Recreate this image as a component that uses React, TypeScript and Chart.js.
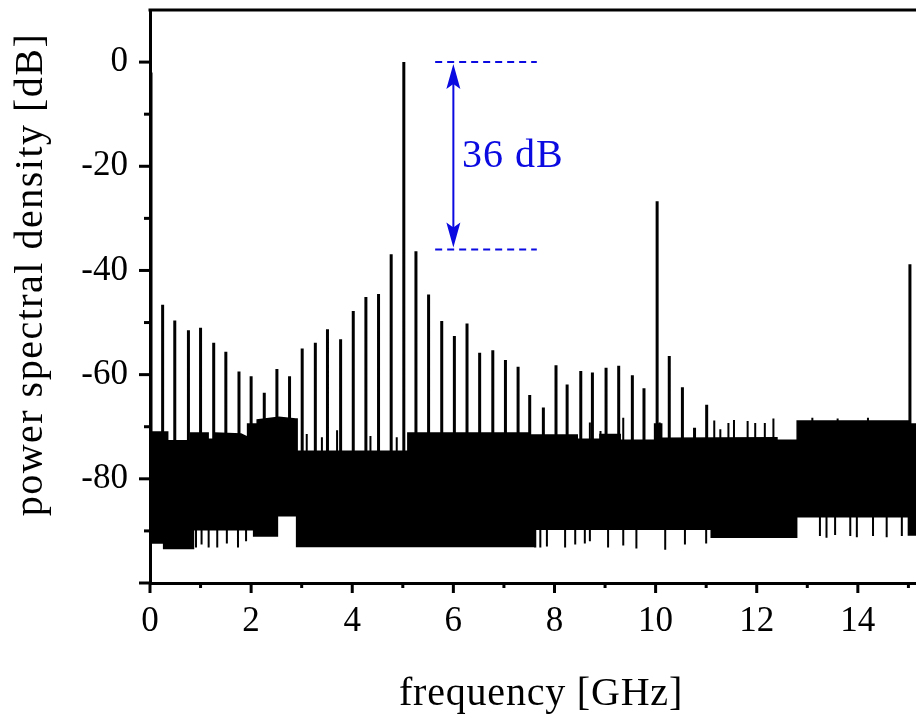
import React, { useEffect, useRef } from "react";
import { Chart, registerables } from "chart.js";

Chart.register(...registerables);

// ---- axis ticks & titles ----
const xTickValues = [0, 2, 4, 6, 8, 10, 12, 14];
const xMinorTickValues = [1, 3, 5, 7, 9, 11, 13, 15];
const yTickValues = [-80, -60, -40, -20, 0];
const yMajorMarkValues = [-100, -80, -60, -40, -20, 0];
const yMinorTickValues = [-90, -70, -50, -30, -10];
const xAxisTitle = "frequency [GHz]";
const yAxisTitle = "power spectral density [dB]";

// ---- comb lines (GHz, dB) ----
const combFreqs = [
  0.02, 0.25, 0.49, 0.76, 1.0, 1.26, 1.5, 1.76, 2.0, 2.26, 2.51, 2.76, 3.01, 3.27, 3.51,
  3.77, 4.02, 4.27, 4.52, 4.77, 5.02, 5.26, 5.51, 5.77, 6.02, 6.27, 6.52, 6.78, 7.03,
  7.28, 7.51, 7.78, 8.03, 8.25, 8.52, 8.75, 9.02, 9.27, 9.54, 9.77, 10.03, 10.27, 10.53,
  10.77, 11.01, 15.03,
];
const combLevels = [
  -2, -46.6, -49.6, -51.5, -51.0, -53.9, -55.6, -59.4, -60.3, -63.5, -58.9, -60.3, -55.0,
  -53.9, -51.3, -53.2, -47.8, -45.1, -44.5, -36.9, 0, -36.3, -44.6, -49.7, -52.6, -50.2,
  -55.8, -55.3, -57.2, -58.5, -63.9, -66.3, -58.2, -61.9, -59.3, -59.6, -58.7, -58.3,
  -60.1, -62.6, -26.7, -56.4, -62.4, -70.2, -65.8, -38.8,
];

// ---- small spurs on top of the noise floor ----
const spurFreqs = [
  3.1, 3.4, 3.7, 4.36, 4.88, 8.7, 8.91, 9.36, 10.08, 11.16, 11.28, 11.44, 11.55, 11.82,
  11.97, 12.16, 12.33, 13.1, 13.6, 14.2,
];
const spurLevels = [
  -71.4, -72.0, -70.7, -71.8, -72.0, -69.2, -70.8, -68.3, -69.2, -68.8, -70.5, -69.3,
  -68.7, -68.9, -69.3, -69.3, -68.4, -68.3, -68.4, -68.3,
];

// ---- downward excursions of the noise floor ----
const dipFreqs = [
  0.91, 1.02, 1.16, 1.33, 1.52, 1.74, 1.9, 7.62, 7.72, 7.85, 8.21, 8.41, 8.6, 8.7, 9.06,
  9.36, 9.62, 10.19, 10.58, 11.0, 13.25, 13.38, 13.55, 13.85, 13.98, 14.3, 14.57, 14.87,
];
const dipLevels = [
  -93.2, -92.6, -93.2, -93.2, -92.4, -93.2, -92.0, -93.2, -93.2, -93.0, -93.2, -92.6,
  -92.4, -92.0, -93.2, -92.8, -93.4, -93.6, -92.6, -92.4, -91.0, -91.3, -90.8, -91.0,
  -91.2, -91.0, -91.2, -91.0,
];

// ---- noise floor envelope ----
const floorTopFreqs = [
  0.0, 0.35, 0.35, 0.8, 0.8, 1.15, 1.15, 1.3, 1.3, 1.8, 1.93, 1.93, 2.12, 2.12, 2.55, 2.88,
  2.91, 2.91, 5.1, 5.1, 7.5, 7.5, 8.45, 8.45, 8.9, 8.9, 9.3, 9.3, 9.98, 9.98, 10.12, 10.12,
  12.4, 12.4, 12.8, 12.8, 15.0, 15.0, 15.2,
];
const floorTopLevels = [
  -71.0, -71.0, -72.7, -72.7, -71.2, -71.2, -72.4, -72.4, -71.2, -71.4, -72.0, -69.5, -69.5,
  -68.7, -68.2, -68.5, -68.5, -74.7, -74.7, -71.2, -71.2, -71.6, -71.6, -72.4, -72.4, -71.5,
  -71.5, -72.6, -72.6, -69.5, -69.5, -72.2, -72.1, -72.6, -72.6, -68.9, -68.9, -69.5, -69.5,
];
const floorBottomFreqs = [
  0.0, 0.27, 0.27, 0.86, 0.86, 2.05, 2.05, 2.52, 2.52, 2.9, 2.9, 7.6, 7.6, 11.1, 11.1, 12.79,
  12.79, 15.0, 15.0, 15.2,
];
const floorBottomLevels = [
  -92.3, -92.3, -93.4, -93.4, -89.8, -89.8, -91.0, -91.0, -87.1, -87.1, -93.0, -93.0, -89.7,
  -89.7, -91.2, -91.2, -87.3, -87.3, -90.8, -90.8,
];

// ---- annotation ----
const annotationLevels = [0, -36];
const annotationSpan = [5.64, 7.65];
const arrowFreq = 6.0;
const annotationText = "36 dB";
const annotationTextAt = [6.17, -20.2];

const SERIF = "'Liberation Serif', 'Times New Roman', serif";
const BLUE = "rgb(10,10,225)";
const INK = "#000";

const segments = (freqs: number[], levels: number[], base: number) =>
  freqs.flatMap((f, i) => [
    { x: f, y: base },
    { x: f, y: levels[i] },
    { x: f, y: null },
  ]);

const decorPlugin = {
  id: "decor",
  afterDatasetsDraw(chart: any) {
    const { ctx, chartArea } = chart;
    const xs = chart.scales.x;
    const ys = chart.scales.y;
    ctx.save();
    ctx.strokeStyle = INK;
    ctx.lineWidth = 3;
    ctx.lineCap = "butt";
    // top frame line
    ctx.beginPath();
    ctx.moveTo(chartArea.left - 1.5, chartArea.top);
    ctx.lineTo(chartArea.right, chartArea.top);
    ctx.stroke();
    // tick marks
    const yMark = (v: number, len: number) => {
      const p = ys.getPixelForValue(v);
      ctx.beginPath();
      ctx.moveTo(chartArea.left - len, p);
      ctx.lineTo(chartArea.left, p);
      ctx.stroke();
    };
    const xMark = (v: number, len: number) => {
      const p = xs.getPixelForValue(v);
      ctx.beginPath();
      ctx.moveTo(p, chartArea.bottom);
      ctx.lineTo(p, chartArea.bottom + len);
      ctx.stroke();
    };
    yMajorMarkValues.forEach((v) => yMark(v, 11));
    yMinorTickValues.forEach((v) => yMark(v, 6));
    xTickValues.forEach((v) => xMark(v, 10));
    xMinorTickValues.forEach((v) => xMark(v, 5));

    // annotation
    ctx.strokeStyle = BLUE;
    ctx.fillStyle = BLUE;
    ctx.lineWidth = 2;
    ctx.setLineDash([7, 5]);
    annotationLevels.forEach((lv) => {
      const py = ys.getPixelForValue(lv);
      ctx.beginPath();
      ctx.moveTo(xs.getPixelForValue(annotationSpan[0]), py);
      ctx.lineTo(xs.getPixelForValue(annotationSpan[1]), py);
      ctx.stroke();
    });
    ctx.setLineDash([]);
    const ax = xs.getPixelForValue(arrowFreq);
    const yTop = ys.getPixelForValue(annotationLevels[0]) + 2;
    const yBot = ys.getPixelForValue(annotationLevels[1]) - 2;
    ctx.beginPath();
    ctx.moveTo(ax, yTop + 10);
    ctx.lineTo(ax, yBot - 10);
    ctx.stroke();
    const head = (tip: number, dir: number) => {
      ctx.beginPath();
      ctx.moveTo(ax, tip);
      ctx.lineTo(ax - 7, tip + dir * 25);
      ctx.lineTo(ax, tip + dir * 20);
      ctx.lineTo(ax + 7, tip + dir * 25);
      ctx.closePath();
      ctx.fill();
    };
    head(yTop, 1);
    head(yBot, -1);
    ctx.font = `40px ${SERIF}`;
    (ctx as any).letterSpacing = "1px";
    ctx.textAlign = "left";
    ctx.textBaseline = "alphabetic";
    ctx.fillText(
      annotationText,
      xs.getPixelForValue(annotationTextAt[0]),
      ys.getPixelForValue(annotationTextAt[1])
    );

    // axis titles
    ctx.fillStyle = INK;
    ctx.font = `40px ${SERIF}`;
    (ctx as any).letterSpacing = "0.8px";
    ctx.textAlign = "center";
    ctx.fillText(xAxisTitle, (chartArea.left + chartArea.right) / 2 + 8, 705);
    ctx.save();
    ctx.translate(42, (chartArea.top + chartArea.bottom) / 2 - 22);
    ctx.rotate(-Math.PI / 2);
    (ctx as any).letterSpacing = "1.5px";
    ctx.fillText(yAxisTitle, 0, 0);
    ctx.restore();
    ctx.restore();
  },
};

export default function App() {
  const ref = useRef<HTMLCanvasElement | null>(null);
  useEffect(() => {
    if (!ref.current) return;
    const chart = new Chart(ref.current, {
      type: "line",
      data: {
        datasets: [
          {
            data: floorTopFreqs.map((f, i) => ({ x: f, y: floorTopLevels[i] })),
            borderColor: INK,
            backgroundColor: INK,
            borderWidth: 1.5,
            pointRadius: 0,
            fill: "+1",
          },
          {
            data: floorBottomFreqs.map((f, i) => ({ x: f, y: floorBottomLevels[i] })),
            borderColor: INK,
            borderWidth: 1.5,
            pointRadius: 0,
            fill: false,
          },
          {
            data: segments(combFreqs, combLevels, -82),
            borderColor: INK,
            borderWidth: 3,
            pointRadius: 0,
            fill: false,
            spanGaps: false,
          },
          {
            data: segments(spurFreqs, spurLevels, -80),
            borderColor: INK,
            borderWidth: 2,
            pointRadius: 0,
            fill: false,
            spanGaps: false,
          },
          {
            data: segments(dipFreqs, dipLevels, -85),
            borderColor: INK,
            borderWidth: 2,
            pointRadius: 0,
            fill: false,
            spanGaps: false,
          },
        ] as any,
      },
      options: {
        responsive: false,
        devicePixelRatio: 1,
        animation: false,
        events: [],
        layout: { padding: { top: 10, right: 0, left: 0, bottom: 0 } },
        plugins: { legend: { display: false }, tooltip: { enabled: false } },
        scales: {
          x: {
            type: "linear",
            min: 0,
            max: 15.15,
            afterBuildTicks: (s: any) => {
              s.ticks = xTickValues.map((v) => ({ value: v }));
            },
            afterFit: (s: any) => {
              s.height = 132;
              s.paddingLeft = 0;
              s.paddingRight = 0;
            },
            grid: { display: true, drawOnChartArea: false, drawTicks: false },
            border: { display: true, color: INK, width: 3 },
            ticks: {
              padding: 18,
              color: INK,
              maxRotation: 0,
              autoSkip: false,
              font: { family: SERIF, size: 35 },
              callback: (v: any) => String(v),
            },
          },
          y: {
            type: "linear",
            min: -100,
            max: 10,
            afterBuildTicks: (s: any) => {
              s.ticks = yTickValues.map((v) => ({ value: v }));
            },
            afterFit: (s: any) => {
              s.width = 150;
              s.paddingTop = 0;
              s.paddingBottom = 0;
            },
            grid: { display: true, drawOnChartArea: false, drawTicks: false },
            border: { display: true, color: INK, width: 3 },
            ticks: {
              padding: 22,
              color: INK,
              autoSkip: false,
              font: { family: SERIF, size: 35 },
              callback: (v: any) => String(v),
            },
          },
        },
      } as any,
      plugins: [decorPlugin],
    });
    return () => chart.destroy();
  }, []);
  return (
    <div
      style={{
        position: "absolute",
        left: 0,
        top: 0,
        width: 916,
        height: 715,
        background: "#fff",
        overflow: "hidden",
      }}
    >
      <canvas ref={ref} width={916} height={715} style={{ display: "block", width: 916, height: 715 }} />
    </div>
  );
}
